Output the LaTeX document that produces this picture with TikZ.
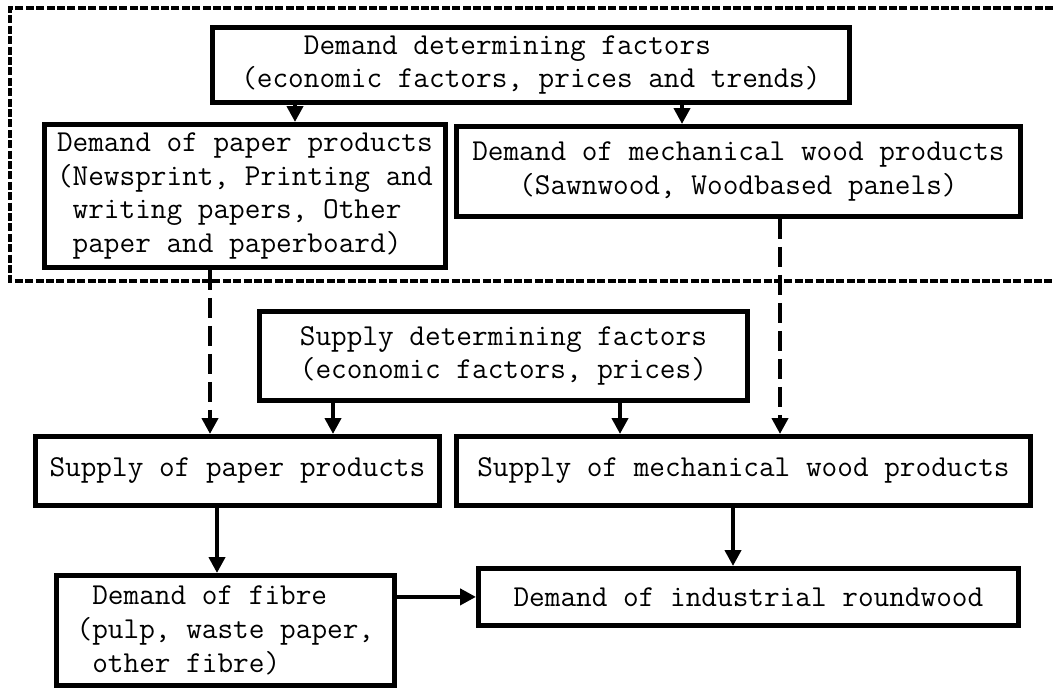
\documentclass[tikz,border=0pt]{standalone}
\usetikzlibrary{arrows.meta}

\begin{document}
\begin{tikzpicture}[x=0.5pt, y=-0.5pt,
    box/.style={draw, line width=2.4pt, inner sep=0pt, align=left, anchor=north west,
      font=\ttfamily\fontsize{15.2}{16.8}\selectfont},
    arr/.style={line width=2.4pt, -{Triangle[length=8pt,width=8pt]}},
    darr/.style={arr, dash pattern=on 10pt off 4pt},
    demandframe/.style={line width=2pt, dash pattern=on 4pt off 1.2pt}]
        \useasboundingbox (0,0) rectangle (1053,687);
        % Demand side, inside the dashed frame
        \draw[demandframe] (1053,8) -- (10,8) -- (10,281) -- (1053,281);
        \node[box, minimum width=318.5pt, minimum height=37.5pt] (demfac) at (210,25)
            {~~~~Demand determining factors\\(economic factors, prices and trends)};
        \node[box, minimum width=200.5pt, minimum height=71.5pt] (dempaper) at (42,122)
            {Demand of paper products\\(Newsprint, Printing and\\~writing papers, Other\\~paper and paperboard)};
        \node[box, minimum width=282pt, minimum height=45pt] (demwood) at (454,124)
            {Demand of mechanical wood products\\~~~(Sawnwood, Woodbased panels)};
        % Supply side
        \node[box, minimum width=244pt, minimum height=44.5pt] (supfac) at (257,309)
            {Supply determining factors\\(economic factors, prices)};
        \node[box, minimum width=202pt, minimum height=34.5pt] (suppaper) at (33,434)
            {Supply of paper products};
        \node[box, minimum width=287pt, minimum height=34.5pt] (supwood) at (454,434)
            {Supply of mechanical wood products};
        % Raw material demand
        \node[box, minimum width=169pt, minimum height=55pt] (fibre) at (54,573)
            {~Demand of fibre\\(pulp, waste paper,\\~other fibre)};
        \node[box, minimum width=270pt, minimum height=28.5pt] (roundwood) at (476,566)
            {Demand of industrial roundwood};
        % Arrows
        \draw[arr] (demfac.south -| 295,0) -- (dempaper.north -| 295,0);
        \draw[arr] (demfac.south -| 682,0) -- (demwood.north -| 682,0);
        \draw[darr] (dempaper.south -| 210,0) -- (suppaper.north -| 210,0);
        \draw[darr] (demwood.south -| 780,0) -- (supwood.north -| 780,0);
        \draw[arr] (supfac.south -| 333,0) -- (suppaper.north -| 333,0);
        \draw[arr] (supfac.south -| 620,0) -- (supwood.north -| 620,0);
        \draw[arr] (suppaper.south -| 217,0) -- (fibre.north -| 217,0);
        \draw[arr] (supwood.south -| 733,0) -- (roundwood.north -| 733,0);
        \draw[arr] (fibre.east |- roundwood.west) -- (roundwood.west);
\end{tikzpicture}
\end{document}
